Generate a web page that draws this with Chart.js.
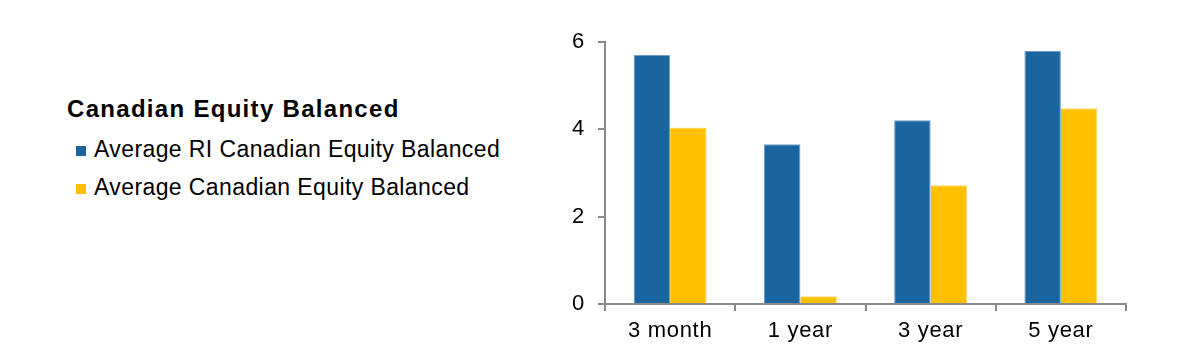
<!DOCTYPE html>
<html>
<head>
<meta charset="utf-8">
<script src="https://cdn.jsdelivr.net/npm/chart.js@4"></script>
<style>
  html, body { margin: 0; padding: 0; background: #fff; }
  body { width: 1197px; height: 363px; position: relative; overflow: hidden; font-family: "Liberation Sans", Arial, sans-serif; color: #000; }
  .lg { position: absolute; white-space: nowrap; }
  .lg.title { left: 67px; top: 97px; font-weight: bold; font-size: 24px; line-height: 24px; letter-spacing: 1.3px; }
  .lg.item { left: 94px; font-size: 23px; line-height: 23px; letter-spacing: 0.4px; }
  .lg.sw { left: 76px; width: 10px; height: 10px; }
  #wrap { position: absolute; left: 540px; top: 0; width: 657px; height: 363px; }
</style>
</head>
<body>
<div id="legend"></div>
<div id="wrap"><canvas id="chart"></canvas></div>
<script>
// ===== DATA =====
const legendTitle = 'Canadian Equity Balanced';
const categories = ['3 month', '1 year', '3 year', '5 year'];
const seriesNames = ['Average RI Canadian Equity Balanced', 'Average Canadian Equity Balanced'];
const riValues = [5.70, 3.66, 4.21, 5.80];
const avgValues = [4.04, 0.18, 2.72, 4.48];
const yTicks = [0, 2, 4, 6];

const colors = ['#1A65A0', '#FFC000'];
const edgeColors = ['#6f9cc6', '#ffd966'];
const axisGray = '#898989';

// legend is plain HTML to the left of the plot, as in the source
const legend = document.getElementById('legend');
const itemTops = [138, 176];
legend.innerHTML = `<div class="lg title">${legendTitle}</div>` +
    seriesNames.map((n, i) =>
        `<div class="lg sw" style="top:${itemTops[i] + 8}px;background:${colors[i]}"></div>` +
        `<div class="lg item" style="top:${itemTops[i]}px">${n}</div>`
    ).join('');

const tickFont = { family: '"Liberation Sans", Arial, sans-serif', size: 22 };

// source text is set a bit looser than the font's own metrics
const looseText = {
    id: 'looseText',
    beforeDraw(chart) { chart.ctx.letterSpacing = '0.7px'; }
};

new Chart(document.getElementById('chart').getContext('2d'), {
    type: 'bar',
    data: {
        labels: categories,
        datasets: [
            { label: seriesNames[0], data: riValues, backgroundColor: colors[0], borderColor: edgeColors[0], borderWidth: { top: 1, left: 1, right: 1, bottom: 0 } },
            { label: seriesNames[1], data: avgValues, backgroundColor: colors[1], borderColor: edgeColors[1], borderWidth: { top: 1, left: 0, right: 1, bottom: 0 } }
        ]
    },
    options: {
        responsive: true,
        maintainAspectRatio: false,
        animation: false,
        layout: { padding: { top: 42, right: 71, bottom: 0, left: 0 } },
        datasets: { bar: { barPercentage: 1, categoryPercentage: 0.56 } },
        plugins: { legend: { display: false }, tooltip: { enabled: false } },
        scales: {
            x: {
                offset: true,
                grid: { display: true, drawOnChartArea: false, drawTicks: true, tickLength: 7, color: axisGray, lineWidth: 2, offset: true },
                border: { display: true, color: axisGray, width: 2 },
                ticks: { color: '#000', font: tickFont, padding: 7 },
                afterFit: s => { s.height = 59; }
            },
            y: {
                min: 0, max: 6,
                afterBuildTicks: s => { s.ticks = yTicks.map(v => ({ value: v })); },
                grid: { display: true, drawOnChartArea: false, drawTicks: true, tickLength: 7, color: axisGray, lineWidth: 2 },
                border: { display: true, color: axisGray, width: 2 },
                ticks: { color: '#000', font: tickFont, padding: 13 },
                afterFit: s => { s.width = 65; }
            }
        }
    },
    plugins: [looseText]
});
</script>
</body>
</html>
